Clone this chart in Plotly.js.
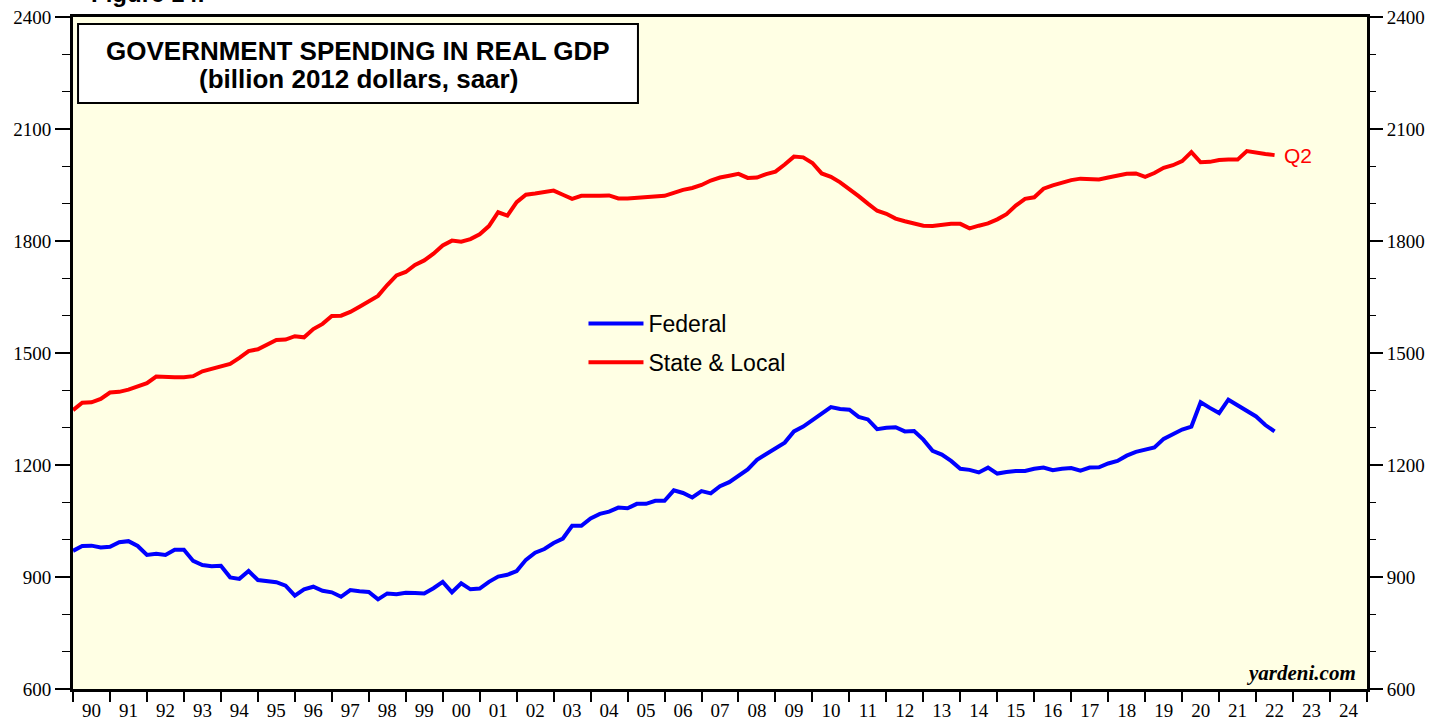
<!DOCTYPE html>
<html>
<head>
<meta charset="utf-8">
<script src="https://cdn.plot.ly/plotly-3.0.1.min.js"></script>
<style>html,body{margin:0;padding:0;background:#ffffff;}</style>
</head>
<body>
<div id="chart" style="width:1450px;height:721px;"></div>
<script>
// Quarterly observations, first one plotted at the start of 1990
const startYear = 1990;

// Federal government spending, real GDP (billion 2012 dollars, saar)
const federal = [
  970, 983, 984, 979, 981, 993, 996, 983, 959, 962,
  959, 973, 973, 943, 932, 929, 930, 899, 895, 916,
  892, 890, 886, 877, 850, 867, 874, 863, 859, 847,
  865, 862, 860, 840, 856, 854, 858, 857, 856, 870,
  887, 859, 883, 867, 869, 887, 901, 906, 916, 946,
  965, 975, 991, 1003, 1037, 1037, 1057, 1069, 1075, 1086,
  1084, 1096, 1096, 1104, 1104, 1132, 1125, 1113, 1130, 1124,
  1143, 1154, 1170, 1188, 1214, 1229, 1244, 1260, 1290, 1303,
  1320, 1337, 1355, 1350, 1348, 1329, 1322, 1296, 1300, 1301,
  1290, 1291, 1268, 1238, 1228, 1211, 1190, 1187, 1180, 1193,
  1177, 1181, 1184, 1184, 1190, 1193, 1186, 1190, 1192, 1185,
  1193, 1194, 1204, 1211, 1225, 1235, 1242, 1247, 1270, 1283,
  1295, 1303, 1368, 1353, 1339, 1375, 1361, 1346, 1330, 1307,
  1290
];

// State & local government spending, real GDP (billion 2012 dollars, saar)
const stateLocal = [
  1347, 1367, 1368, 1377, 1394, 1396, 1402, 1410, 1419, 1437,
  1435, 1435, 1435, 1438, 1451, 1458, 1464, 1471, 1487, 1505,
  1510, 1522, 1535, 1536, 1545, 1542, 1564, 1578, 1599, 1600,
  1610, 1624, 1638, 1653, 1682, 1708, 1717, 1736, 1748, 1766,
  1788, 1801, 1798, 1805, 1818, 1840, 1877, 1868, 1904, 1924,
  1927, 1931, 1935, 1924, 1913, 1921, 1920, 1921, 1922, 1914,
  1914, 1916, 1917, 1918, 1921, 1929, 1937, 1942, 1950, 1962,
  1970, 1975, 1980, 1969, 1970, 1979, 1986, 2005, 2026, 2024,
  2009, 1981, 1972, 1957, 1940, 1920, 1900, 1881, 1873, 1860,
  1853, 1847, 1841, 1840, 1843, 1846, 1846, 1834, 1841, 1847,
  1858, 1872, 1895, 1913, 1917, 1940, 1949, 1956, 1963, 1967,
  1967, 1965, 1970, 1974, 1980, 1981, 1972, 1982, 1996, 2003,
  2014, 2038, 2011, 2012, 2017, 2018, 2018, 2041, 2036, 2033,
  2030
];

// Year tick labels (one per calendar year, shown centred in the year)
const yearLabels = ['90','91','92','93','94','95','96','97','98','99',
  '00','01','02','03','04','05','06','07','08','09',
  '10','11','12','13','14','15','16','17','18','19',
  '20','21','22','23','24'];

const seriesNames = ['Federal', 'State & Local'];
const titleLines = ['GOVERNMENT SPENDING IN REAL GDP', '(billion 2012 dollars, saar)'];
const lastLabel = 'Q2';

const quarters = federal.map((_, i) => startYear + i / 4);
const yearStarts = yearLabels.map((_, i) => startYear + i).concat([startYear + yearLabels.length]);
const yearMids = yearLabels.map((_, i) => startYear + i + 0.5);

const serif = 'Liberation Serif, Times New Roman, serif';
const sans = 'Liberation Sans, Arial, Helvetica, sans-serif';

const traces = [
  {
    x: quarters, y: federal, type: 'scatter', mode: 'lines',
    name: seriesNames[0], legendgroup: 'a',
    line: {color: '#0000FF', width: 4},
    xaxis: 'x', yaxis: 'y', hoverinfo: 'x+y'
  },
  {
    x: quarters, y: stateLocal, type: 'scatter', mode: 'lines',
    name: seriesNames[1], legendgroup: 'b',
    line: {color: '#FF0000', width: 4},
    xaxis: 'x', yaxis: 'y2', hoverinfo: 'x+y'
  }
];

const yCommon = {
  range: [600, 2400],
  tickmode: 'linear', tick0: 600, dtick: 300,
  ticks: 'outside', ticklen: 15, tickwidth: 1.5, tickcolor: '#000',
  minor: {dtick: 100, tick0: 600, ticks: 'outside', ticklen: 8, tickwidth: 1.5, tickcolor: '#000', showgrid: false},
  showgrid: false, zeroline: false,
  tickfont: {family: serif, size: 19, color: '#000'},
  fixedrange: true
};

const layout = {
  width: 1450, height: 721,
  margin: {l: 73, r: 83, t: 17, b: 32, pad: 0},
  paper_bgcolor: '#FFFFFF',
  plot_bgcolor: '#FFFFE4',
  showlegend: true,
  legend: {
    x: 0.3945, y: 0.576, xanchor: 'left', yanchor: 'top',
    bgcolor: 'rgba(0,0,0,0)', borderwidth: 0,
    font: {family: sans, size: 23, color: '#000'},
    traceorder: 'grouped', tracegroupgap: 6,
    itemwidth: 55
  },
  xaxis: {
    range: [startYear, startYear + yearLabels.length],
    tickmode: 'array', tickvals: yearMids, ticktext: yearLabels,
    ticks: '', ticklabelstandoff: 2,
    minor: {tickmode: 'array', tickvals: yearStarts, ticks: 'outside', ticklen: 10, tickwidth: 2, tickcolor: '#000', showgrid: false},
    showline: true, linewidth: 3, linecolor: '#000', mirror: true,
    showgrid: false, zeroline: false,
    tickfont: {family: serif, size: 19, color: '#000'},
    fixedrange: true
  },
  yaxis: Object.assign({}, yCommon, {
    side: 'left',
    showline: true, linewidth: 3, linecolor: '#000', mirror: true
  }),
  yaxis2: Object.assign({}, yCommon, {
    overlaying: 'y', side: 'right', showline: false
  }),
  shapes: [
    {
      type: 'rect', xref: 'paper', yref: 'paper',
      x0: 0.0039, x1: 0.4366, y0: 0.872, y1: 0.9896,
      line: {color: '#000', width: 2}, fillcolor: '#FFFFFF', layer: 'below'
    }
  ],
  annotations: [
    {
      xref: 'paper', yref: 'paper', x: 0.2203, y: 0.9494,
      xanchor: 'center', yanchor: 'middle', showarrow: false,
      text: titleLines[0],
      font: {family: sans, size: 26, color: '#000', weight: 'bold'}
    },
    {
      xref: 'paper', yref: 'paper', x: 0.2203, y: 0.9077,
      xanchor: 'center', yanchor: 'middle', showarrow: false,
      text: titleLines[1],
      font: {family: sans, size: 26, color: '#000', weight: 'bold'}
    },
    {
      xref: 'x', yref: 'y2', x: quarters[quarters.length - 1], y: stateLocal[stateLocal.length - 1],
      xanchor: 'left', yanchor: 'middle', xshift: 7, showarrow: false,
      text: lastLabel,
      font: {family: sans, size: 21, color: '#FF0000'}
    },
    {
      xref: 'paper', yref: 'paper', x: 0.993, y: 0.024,
      xanchor: 'right', yanchor: 'middle', showarrow: false,
      text: '<b><i>yardeni.com</i></b>',
      font: {family: serif, size: 21, color: '#000'}
    },
    {
      xref: 'paper', yref: 'paper', x: 0.012, y: 1.012,
      xanchor: 'left', yanchor: 'bottom', showarrow: false,
      text: '<b>Figure 14.</b>',
      font: {family: sans, size: 24, color: '#000'}
    }
  ]
};

Plotly.newPlot('chart', traces, layout, {displayModeBar: false, staticPlot: true});
</script>
</body>
</html>
